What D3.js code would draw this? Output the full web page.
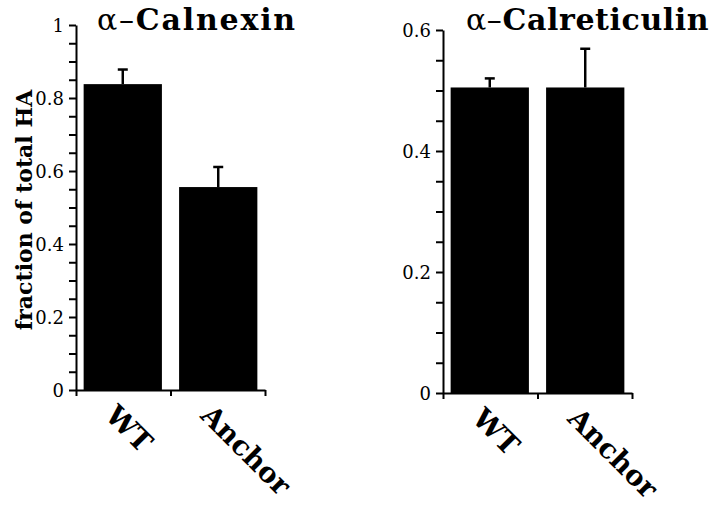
<!DOCTYPE html>
<html>
<head>
<meta charset="utf-8">
<script src="https://cdn.jsdelivr.net/npm/d3@7"></script>
<style>
  body { margin: 0; background: #fff; }
  svg text { font-family: "DejaVu Serif", "Liberation Serif", serif; fill: #000; }
  svg .tick text { font-family: "DejaVu Serif", serif !important; font-size: 18px !important; }
</style>
</head>
<body>
<div id="chart"></div>
<script>
const categories = ['WT', 'Anchor'];
const calnexinMeans = [0.838, 0.556];
const calnexinErrors = [0.040, 0.055];
const calreticulinMeans = [0.505, 0.505];
const calreticulinErrors = [0.015, 0.064];
const calnexinTicks = [0, 0.2, 0.4, 0.6, 0.8, 1];
const calreticulinTicks = [0, 0.2, 0.4, 0.6];

const width = 720, height = 508;

const svg = d3.select('#chart')
    .append('svg')
    .attr('width', width)
    .attr('height', height);

// one panel = one little bar chart with its own y scale
function panel(opts) {
    const g = svg.append('g');

    const x = d3.scaleBand()
        .domain(categories)
        .range([opts.left, opts.right])
        .paddingInner(0.18)
        .paddingOuter(0.08);

    const y = d3.scaleLinear()
        .domain([0, opts.max])
        .range([opts.bottom, opts.top]);

    // bars
    g.selectAll('rect.bar')
        .data(opts.means)
        .enter()
        .append('rect')
        .attr('class', 'bar')
        .attr('x', (d, i) => x(categories[i]))
        .attr('width', x.bandwidth())
        .attr('y', d => y(d))
        .attr('height', d => y(0) - y(d))
        .style('fill', '#000');

    // error bars (upper only)
    const err = g.selectAll('g.err')
        .data(opts.means)
        .enter()
        .append('g')
        .attr('class', 'err')
        .attr('transform', (d, i) => `translate(${x(categories[i]) + x.bandwidth() / 2},0)`);

    err.append('line')
        .attr('y1', d => y(d))
        .attr('y2', (d, i) => y(d + opts.errors[i]))
        .style('stroke', '#000')
        .style('stroke-width', 2.5);

    err.append('line')
        .attr('x1', -5)
        .attr('x2', 5)
        .attr('y1', (d, i) => y(d + opts.errors[i]))
        .attr('y2', (d, i) => y(d + opts.errors[i]))
        .style('stroke', '#000')
        .style('stroke-width', 2.5);

    // y axis: minor ticks every 0.05, labels on the majors
    const minor = d3.range(0, opts.max + 1e-6, 0.05);
    const fmt = d3.format('~g');
    const yAxis = d3.axisLeft(y)
        .tickValues(minor)
        .tickSize(7)
        .tickSizeOuter(0)
        .tickFormat(d => opts.ticks.some(t => Math.abs(t - d) < 1e-6) ? fmt(d) : '');

    const ya = g.append('g')
        .attr('transform', `translate(${opts.left},0)`)
        .call(yAxis);
    ya.select('.domain').style('stroke-width', 2);
    ya.selectAll('.tick line').style('stroke-width', 2);
    ya.selectAll('.tick text')
        .attr('x', -12)
        .attr('dy', '0.36em');

    // x axis: ticks at the band edges
    const xEdge = d3.scaleLinear().domain([0, categories.length]).range([opts.left, opts.right]);
    const xa = g.append('g')
        .attr('transform', `translate(0,${opts.bottom})`)
        .call(d3.axisBottom(xEdge)
            .tickValues(d3.range(0, categories.length + 1))
            .tickSize(6)
            .tickSizeOuter(0)
            .tickFormat(''));
    xa.select('.domain').style('stroke-width', 2);
    xa.selectAll('.tick line').style('stroke-width', 2);

    // rotated category labels
    g.selectAll('text.cat')
        .data(categories)
        .enter()
        .append('text')
        .attr('class', 'cat')
        .attr('transform', d => `translate(${x(d) + x.bandwidth() / 2 - 19},${opts.bottom + 27}) rotate(45)`)
        .style('font-size', '28px')
        .style('font-weight', 'bold')
        .text(d => d);

    // title
    const title = g.append('text')
        .attr('x', opts.titleX)
        .attr('y', 30)
        .style('font-size', '30px')
        .style('letter-spacing', opts.titleSpacing + 'px');
    title.append('tspan').text('α–');
    title.append('tspan').style('font-weight', 'bold').text(opts.title);

    return g;
}

panel({
    left: 76, right: 265, top: 25, bottom: 390,
    max: 1,
    means: calnexinMeans,
    errors: calnexinErrors,
    ticks: calnexinTicks,
    title: 'Calnexin',
    titleX: 97,
    titleSpacing: 1.8
});

panel({
    left: 443, right: 632, top: 30, bottom: 393,
    max: 0.6,
    means: calreticulinMeans,
    errors: calreticulinErrors,
    ticks: calreticulinTicks,
    title: 'Calreticulin',
    titleX: 466,
    titleSpacing: 0.6
});

// shared y label
svg.append('text')
    .attr('transform', 'translate(32,210) rotate(-90)')
    .attr('text-anchor', 'middle')
    .style('font-size', '22px')
    .style('font-weight', 'bold')
    .text('fraction of total HA');
</script>
</body>
</html>
